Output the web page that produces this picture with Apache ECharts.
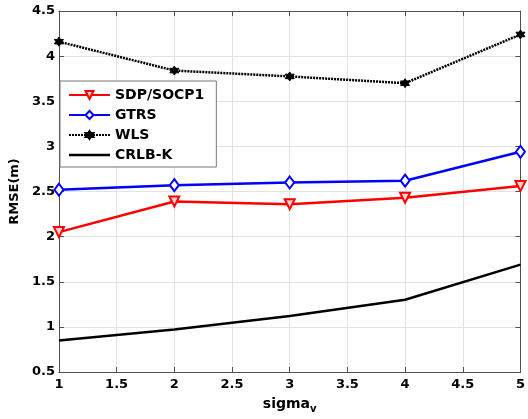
<!DOCTYPE html>
<html>
<head>
<meta charset="utf-8">
<script src="https://cdn.jsdelivr.net/npm/echarts@6/dist/echarts.min.js"></script>
<style>
  html, body { margin: 0; padding: 0; background: #fff; }
  #chart { width: 528px; height: 419px; }
</style>
</head>
<body>
<div id="chart"></div>
<script>
// sigma_v values along the x axis
const sigmaV = [1, 2, 3, 4, 5];

// RMSE (m) for each estimator
const sdpSocp1 = [2.05, 2.39, 2.36, 2.43, 2.56];
const gtrs     = [2.52, 2.57, 2.60, 2.62, 2.94];
const wls      = [4.16, 3.84, 3.775, 3.70, 4.24];
const crlbK    = [0.85, 0.97, 1.12, 1.30, 1.69];

const seriesNames = ['SDP/SOCP1', 'GTRS', 'WLS', 'CRLB-K'];

// axis ranges and tick steps
const xRange = [1, 5, 0.5];
const yRange = [0.5, 4.5, 0.5];

const pairs = arr => sigmaV.map((x, i) => [x, arr[i]]);

// six-pointed star marker
const hexagram = 'path://M0,-10 L2.89,-5 L8.66,-5 L5.77,0 L8.66,5 L2.89,5 L0,10 L-2.89,5 L-8.66,5 L-5.77,0 L-8.66,-5 L-2.89,-5 Z';
// plain line icon for the series drawn without markers
const lineIcon = 'path://M0,0 L41,0 L41,2.5 L0,2.5 Z';

const fontFam = '"DejaVu Sans", Verdana, sans-serif';
const frameColor = '#505050';
const gridColor = '#e3e3e3';

const tickLabel = { fontFamily: fontFam, fontWeight: 'bold', fontSize: 13, color: '#000' };

const chart = echarts.init(document.getElementById('chart'), null, { renderer: 'canvas' });

chart.setOption({
  animation: false,
  backgroundColor: '#fff',
  grid: { left: 57, right: 2, top: 11, bottom: 44, containLabel: false },
  legend: {
    orient: 'vertical',
    left: 60,
    top: 81,
    padding: [7, 12, 5, 8],
    backgroundColor: '#fff',
    borderColor: '#777',
    borderWidth: 1,
    itemWidth: 41,
    itemHeight: 10,
    itemGap: 6,
    textStyle: { fontFamily: fontFam, fontWeight: 'bold', fontSize: 14, color: '#000' },
    data: [
      { name: seriesNames[0] },
      { name: seriesNames[1] },
      { name: seriesNames[2] },
      { name: seriesNames[3], icon: lineIcon, itemStyle: { color: '#000' } }
    ]
  },
  xAxis: [{
    type: 'value',
    min: xRange[0], max: xRange[1], interval: xRange[2],
    name: '{a|sigma}{b|v}',
    nameLocation: 'middle',
    nameGap: 22,
    nameTextStyle: {
      rich: {
        a: { fontFamily: fontFam, fontWeight: 'bold', fontSize: 14, color: '#000' },
        b: { fontFamily: fontFam, fontWeight: 'bold', fontSize: 10, color: '#000', padding: [10, 0, 0, 0] }
      }
    },
    axisLine: { show: true, lineStyle: { color: frameColor, width: 1 } },
    axisTick: { show: true, inside: true, length: 5, lineStyle: { color: frameColor } },
    axisLabel: Object.assign({ margin: 6 }, tickLabel),
    splitLine: { show: true, lineStyle: { color: gridColor, width: 1 } }
  }, {
    type: 'value', position: 'top',
    min: xRange[0], max: xRange[1], interval: xRange[2],
    axisLine: { show: true, lineStyle: { color: frameColor, width: 1 } },
    axisTick: { show: true, inside: true, length: 5, lineStyle: { color: frameColor } },
    axisLabel: { show: false },
    splitLine: { show: false }
  }],
  yAxis: [{
    type: 'value',
    min: yRange[0], max: yRange[1], interval: yRange[2],
    name: 'RMSE(m)',
    nameLocation: 'middle',
    nameGap: 35,
    nameTextStyle: { fontFamily: fontFam, fontWeight: 'bold', fontSize: 13, color: '#000' },
    axisLine: { show: true, lineStyle: { color: frameColor, width: 1 } },
    axisTick: { show: true, inside: true, length: 5, lineStyle: { color: frameColor } },
    axisLabel: Object.assign({ margin: 4, formatter: v => String(v) }, tickLabel),
    splitLine: { show: true, lineStyle: { color: gridColor, width: 1 } }
  }, {
    type: 'value', position: 'right',
    min: yRange[0], max: yRange[1], interval: yRange[2],
    axisLine: { show: true, lineStyle: { color: frameColor, width: 1 } },
    axisTick: { show: true, inside: true, length: 5, lineStyle: { color: frameColor } },
    axisLabel: { show: false },
    splitLine: { show: false }
  }],
  series: [
    {
      name: seriesNames[0], type: 'line', data: pairs(sdpSocp1),
      symbol: 'triangle', symbolRotate: 180, symbolSize: 10,
      lineStyle: { color: '#ff0000', width: 2.5 },
      itemStyle: { color: '#ffd0d0', borderColor: '#ff0000', borderWidth: 2 },
      z: 4
    },
    {
      name: seriesNames[1], type: 'line', data: pairs(gtrs),
      symbol: 'diamond', symbolSize: [9, 12],
      lineStyle: { color: '#0000ff', width: 2.5 },
      itemStyle: { color: '#ffffff', borderColor: '#0000ff', borderWidth: 2 },
      z: 4
    },
    {
      name: seriesNames[2], type: 'line', data: pairs(wls),
      symbol: hexagram, symbolSize: 9,
      lineStyle: { color: '#000000', width: 2.5, type: [2, 1] },
      itemStyle: { color: '#000000', borderColor: '#000000', borderWidth: 1 },
      z: 4
    },
    {
      name: seriesNames[3], type: 'line', data: pairs(crlbK),
      symbol: 'none',
      lineStyle: { color: '#000000', width: 2.5 },
      itemStyle: { color: '#000000' },
      z: 4
    }
  ]
});
</script>
</body>
</html>
